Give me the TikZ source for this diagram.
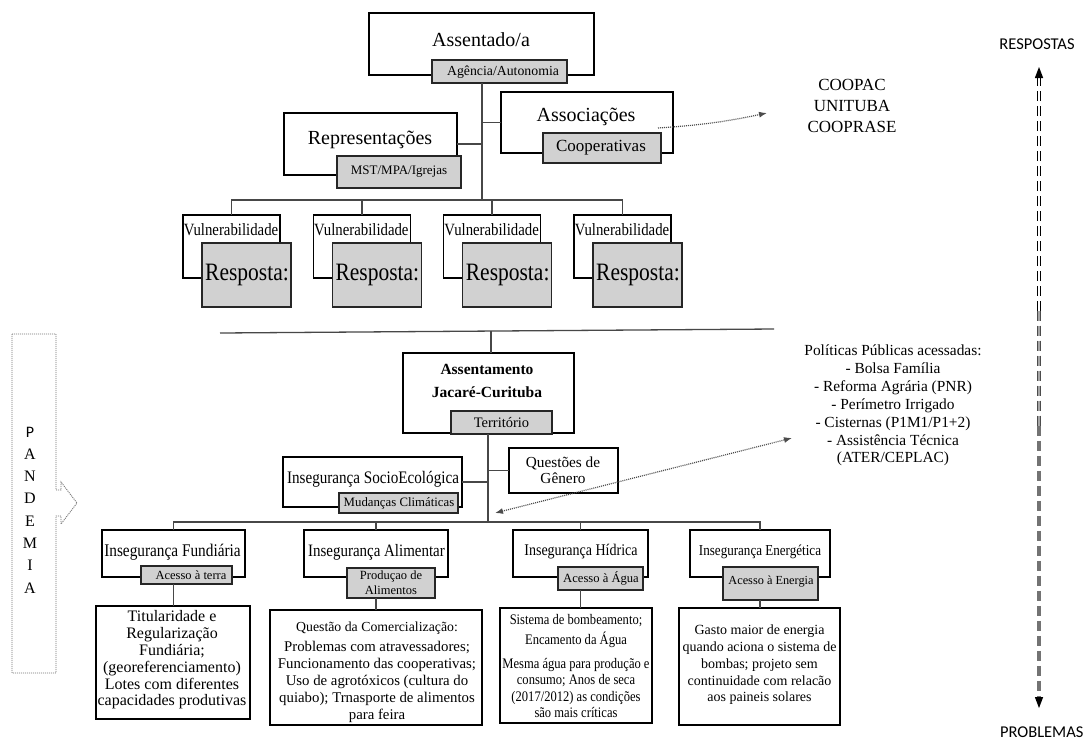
\documentclass[tikz,border=0pt]{standalone}
\usepackage{fontspec}
\setmainfont{Liberation Serif}
\newfontfamily\calib{Carlito}
\newfontfamily\cnd{Liberation Serif}[FakeStretch=0.86]
\usetikzlibrary{arrows.meta,fit,calc}
\newcommand{\myfs}[2]{\fontsize{#1}{#2}\selectfont}
\begin{document}
\begin{tikzpicture}[x=1pt,y=-1pt,
 wbox/.style={draw=black, line width=1.1pt, fill=white, inner sep=0pt, outer sep=0pt},
 gbox/.style={draw=black!85, line width=1.1pt, fill=black!18, inner sep=0pt, outer sep=0pt},
 txt/.style={inner sep=0pt, outer sep=0pt, align=center, text=black},
 conn/.style={draw=black!72, line width=1.5pt},
 dotarrow/.style={draw=black!70, line width=1.2pt, dash pattern=on 1pt off 1pt},
 axdash/.style={dash pattern=on 10pt off 5pt},
 tip/.style={-{Latex[length=8pt,width=6pt]}}]
\fill[white] (0,0) rectangle (1083,740);
\useasboundingbox (0,0) rectangle (1083,740);

% ---------- top section ----------
\node[wbox, fit={(369,13) (594,75)}] (assentado) {};
\node[txt, font=\myfs{20}{24}] (assentadoT) at (481,40) {Assentado/a};
\node[gbox, fit={(432,60) (567,83)}] (agencia) {};
\node[txt, font=\myfs{13.8}{16}] (agenciaT) at (503,72) {Agência/Autonomia};

\node[wbox, fit={(284,113) (457,175)}] (repres) {};
\node[txt, font=\myfs{20}{24}] (represT) at (370,140) {Representações};
\node[gbox, fit={(337,156) (461,188)}] (mst) {};
\node[txt, font=\myfs{13}{16}] (mstT) at (399,172) {MST/MPA/Igrejas};

\node[wbox, fit={(501,92) (673,153)}] (assoc) {};
\node[txt, font=\myfs{20}{24}] (assocT) at (586,117) {Associações};
\node[gbox, fit={(543,133) (661,163)}] (coop) {};
\node[txt, font=\myfs{17}{20}] (coopT) at (601,148) {Cooperativas};

\node[txt, font=\myfs{17}{21}] (coopList) at (852,106) {COOPAC\\UNITUBA\\COOPRASE};
\coordinate (coopArr) at (767,113);
\draw[dotarrow, tip] ($(assoc.east)+(-15,5.5)$) to[bend right=4] (coopArr);

\coordinate (bus1) at (482,200);
\draw[conn] (bus1 |- agencia.south) -- (bus1);
\draw[conn] (repres.east) -- (repres.east -| bus1);
\draw[conn] (assoc.west) -- (assoc.west -| bus1);

\foreach \i in {1,2,3,4} {
  \pgfmathsetmacro{\xl}{183+130.33*(\i-1)}
  \node[wbox, fit={(\xl,215) (\xl+97,278)}] (v\i) {};
  \node[txt, anchor=west, font=\cnd\myfs{17.2}{19}] (vt\i) at (\xl+0.8,230) {Vulnerabilidade};
  \node[gbox, fit={(\xl+19,243) (\xl+108,307)}] (r\i) {};
  \node[txt, font=\cnd\myfs{25}{28}] (rt\i) at (\xl+64,275) {Resposta:};
}
\draw[conn] (v1.north) |- (bus1) -| (v4.north);
\draw[conn] (v2.north) -- (v2.north |- bus1);
\draw[conn] (v3.north) -- (v3.north |- bus1);

% ---------- right axis ----------
\node[txt, font=\calib\myfs{16.5}{19}] (respostas) at (1037,44) {RESPOSTAS};
\node[txt, anchor=west, font=\calib\myfs{16.5}{19}] (problemas) at (1000,732) {PROBLEMAS};
\coordinate (arrTop) at (1039,67);
\coordinate (arrBot) at (1039,708);
\coordinate (mid1) at ($(arrTop)!0.38!(arrBot)$);
\coordinate (mid2) at ($(arrTop)!0.56!(arrBot)$);
\draw[black, line width=0.8pt, axdash] ($(arrTop)+(-1.3,9)$) -- ($(mid1)+(-1.3,0)$);
\draw[black, line width=0.8pt, axdash] ($(arrTop)+(1.3,9)$) -- ($(mid1)+(1.3,0)$);
\draw[black!35, line width=3.4pt, axdash] (mid1) -- (mid2);
\draw[black!70, line width=0.8pt, axdash] ($(mid1)+(-1.3,0)$) -- ($(mid2)+(-1.3,0)$);
\draw[black!70, line width=0.8pt, axdash] ($(mid1)+(1.3,0)$) -- ($(mid2)+(1.3,0)$);
\draw[black!55, line width=3.6pt, axdash] (mid2) -- ($(arrBot)+(0,-9)$);
\fill[black] (arrTop) -- ++(-4.2,11) -- ++(8.4,0) -- cycle;
\fill[black] (arrBot) -- ++(-4.2,-11) -- ++(8.4,0) -- cycle;

% ---------- separator ----------
\coordinate (sepL) at (220,333);
\coordinate (sepR) at (774,329);
\draw[conn, line width=1.3pt] (sepL) -- (sepR);
\coordinate (sepM) at (491,331);

% ---------- middle ----------
\node[wbox, fit={(403,353) (574,433)}] (assentamento) {};
\node[txt, font=\bfseries\myfs{15.5}{23}] (assentamentoT) at (487,381) {Assentamento\\Jacaré-Curituba};
\node[gbox, fit={(451,411) (552,434)}] (territorio) {};
\node[txt, font=\myfs{14.5}{17}] (territorioT) at (501.5,423) {Território};
\draw[conn] (sepM) -- (sepM |- assentamento.north);

\coordinate (bus2) at (488,522);
\draw[conn] (bus2 |- territorio.south) -- (bus2);

\node[wbox, fit={(509,448) (618,493)}] (genero) {};
\node[txt, font=\myfs{15.3}{16}] (generoT) at (563,470) {Questões de\\Gênero};
\draw[conn] (genero.west) -- (genero.west -| bus2);

\node[wbox, fit={(283,457) (462,507)}] (socio) {};
\node[txt, font=\cnd\myfs{17.6}{20}] (socioT) at (373,479) {Insegurança SocioEcológica};
\node[gbox, fit={(339,493) (458,513)}] (mudancas) {};
\node[txt, font=\myfs{12.8}{15}] (mudancasT) at (399,503) {Mudanças Climáticas};
\draw[conn] (socio.east) -- (socio.east -| bus2);

\node[txt, font=\myfs{15.4}{17.9}] (politicas) at (893,405.5) {Políticas Públicas acessadas:\\- Bolsa Família\\- Reforma Agrária (PNR)\\- Perímetro Irrigado\\- Cisternas (P1M1/P1+2)\\- Assistência Técnica\\(ATER/CEPLAC)};
\coordinate (polArr) at (792,438);
\coordinate (trunkArr) at (495,513);
\draw[dotarrow, {Latex[length=8pt,width=6pt]}-{Latex[length=8pt,width=6pt]}] (trunkArr) -- (polArr);

% ---------- bottom ----------
\node[wbox, fit={(102,530) (245,577)}] (f1) {};
\node[txt, font=\cnd\myfs{17.8}{20}] (f1T) at (172.5,552) {Insegurança Fundiária};
\node[gbox, fit={(141,566) (232,584)}] (a1) {};
\node[txt, font=\myfs{12.5}{15}] (a1T) at (191,575) {Acesso à terra};
\node[wbox, fit={(96,606) (250,719)}] (d1) {};
\node[txt, font=\myfs{16}{16.8}] (d1T) at (172,660) {Titularidade e\\Regularização\\Fundiária;\\(georeferenciamento)\\Lotes com diferentes\\capacidades produtivas};

\node[wbox, fit={(304,530) (448,577)}] (f2) {};
\node[txt, font=\cnd\myfs{17.4}{20}] (f2T) at (376.5,552) {Insegurança Alimentar};
\node[gbox, fit={(347,568) (435,598)}] (a2) {};
\node[txt, font=\myfs{12.5}{15}] (a2T) at (391,583) {Produçao de\\Alimentos};
\node[wbox, fit={(270,610) (482,725)}] (d2) {};
\node[txt, font=\myfs{14.8}{17}] (d2T) at (377,672) {{\myfs{13.8}{17}Questão da Comercialização:}\\[3pt]Problemas com atravessadores;\\Funcionamento das cooperativas;\\Uso de agrotóxicos (cultura do\\quiabo); Trnasporte de alimentos\\para feira};

\node[wbox, fit={(513,530) (648,577)}] (f3) {};
\node[txt, font=\cnd\myfs{16.3}{19}] (f3T) at (581,552) {Insegurança Hídrica};
\node[gbox, fit={(558,567) (643,590)}] (a3) {};
\node[txt, font=\myfs{12.6}{15}] (a3T) at (601,578) {Acesso à Água};
\node[wbox, fit={(500,608) (652,723)}] (d3) {};
\node[txt, font=\cnd\myfs{14.6}{16.5}] (d3T) at (576,666) {Sistema de bombeamento;\\[3.5pt]Encamento da Água\\[7pt]Mesma água para produção e\\consumo; Anos de seca\\(2017/2012) as condições\\são mais críticas};

\node[wbox, fit={(690,530) (830,577)}] (f4) {};
\node[txt, font=\cnd\myfs{15.2}{18}] (f4T) at (760,552) {Insegurança Energética};
\node[gbox, fit={(723,567) (818,600)}] (a4) {};
\node[txt, font=\myfs{12.3}{15}] (a4T) at (771,582) {Acesso à Energia};
\node[wbox, fit={(679,608) (840,725)}] (d4) {};
\node[txt, font=\myfs{14}{16.8}] (d4T) at (759.5,665) {Gasto maior de energia\\quando aciona o sistema de\\bombas; projeto sem\\continuidade com relacão\\aos paineis solares};

\draw[conn] (f1.north) |- (bus2) -| (f4.north);
\draw[conn] (f2.north) -- (f2.north |- bus2);
\draw[conn] (f3.north) -- (f3.north |- bus2);
\draw[conn] (f1.center |- a1.south) -- (f1.center |- d1.north);
\draw[conn] (f2.center |- a2.south) -- (f2.center |- d2.north);
\draw[conn] (f3.center |- a3.south) -- (f3.center |- d3.north);
\draw[conn] (f4.center |- a4.south) -- (f4.center |- d4.north);

% ---------- PANDEMIA ----------
\draw[black!55, line width=0.9pt, dash pattern=on 1pt off 1pt] (12,334) -- (56,334) -- (56,490) -- (61,490) -- (61,482) -- (77,503) -- (61,524) -- (61,516) -- (56,516) -- (56,673) -- (12,673) -- cycle;
\node[txt, font=\myfs{16}{22.3}] (pandemia) at (30,510) {{\calib P}\\A\\N\\D\\E\\M\\I\\A};
\end{tikzpicture}
\end{document}
